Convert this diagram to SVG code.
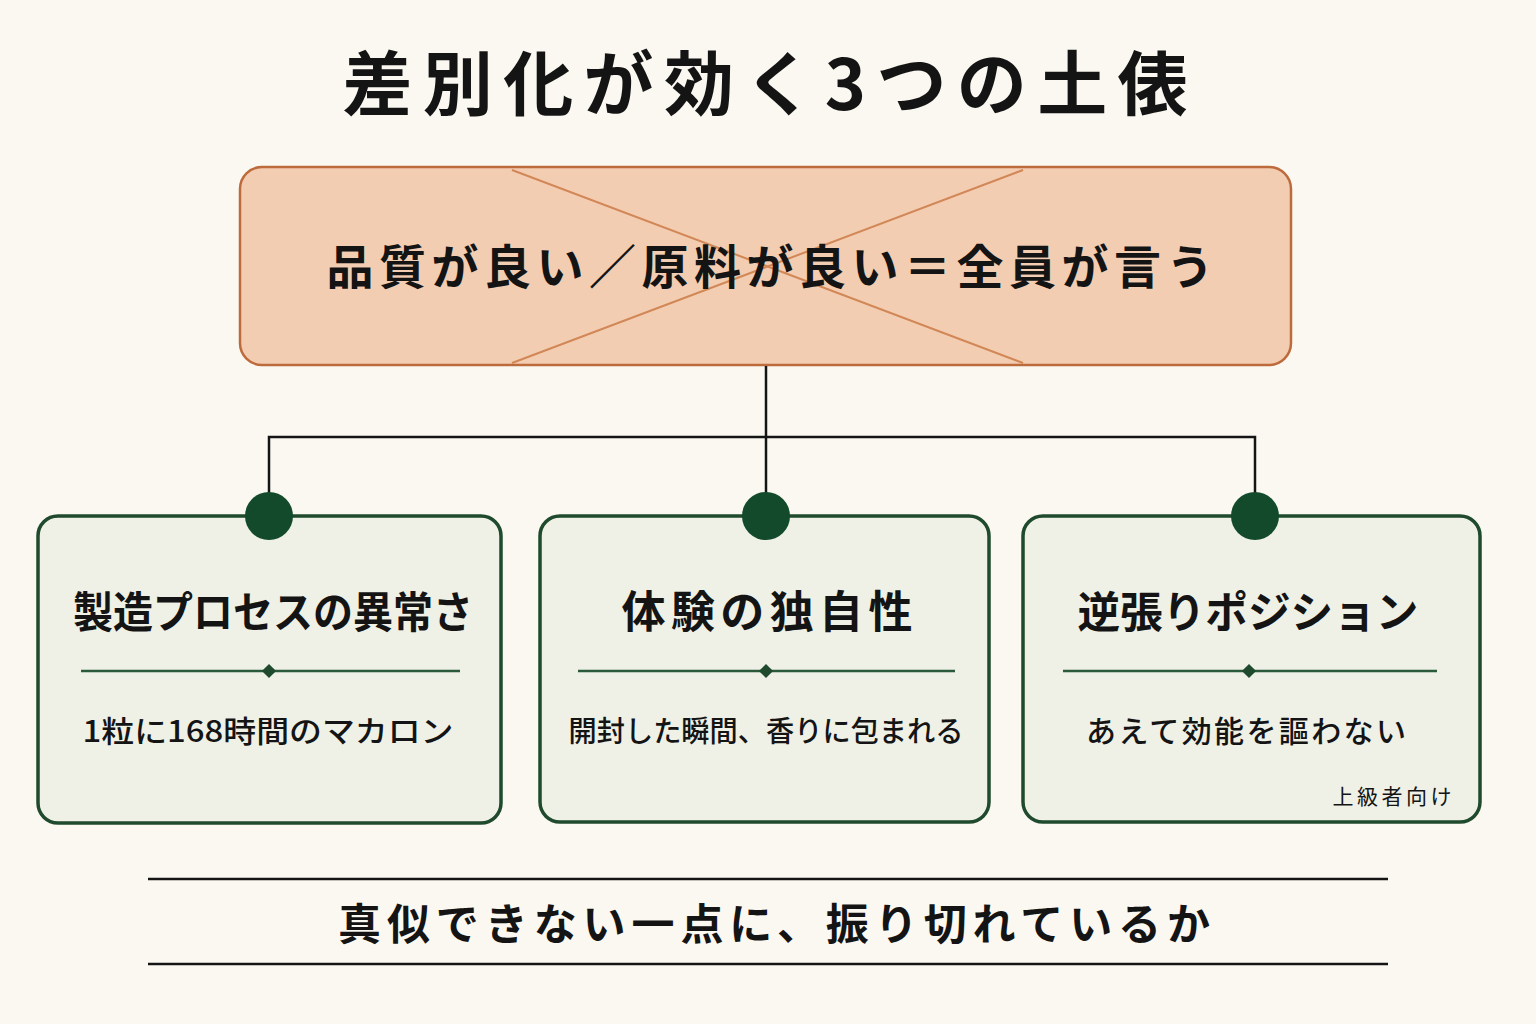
<svg xmlns="http://www.w3.org/2000/svg" width="1536" height="1024" viewBox="0 0 1536 1024">
<style>
.t{font-family:"Noto Sans CJK JP","Noto Sans",sans-serif;fill:#141414;text-anchor:middle}
.h{font-weight:700}
.s{font-weight:500}
.box{fill:#eff1e7;stroke:#1f4a2d;stroke-width:3.5}
.dot{fill:#134a2b}
.div{stroke:#2a5a3a;stroke-width:2.5}
.dia{fill:#1f4a2d}
.con{stroke:#141414;stroke-width:2.5;fill:none}
</style>
<rect width="1536" height="1024" fill="#fbf8f1"/>
<g id="title">
<text class="t h" x="765" y="110" font-size="70" textLength="845" lengthAdjust="spacing">差別化が効く3つの土俵</text>
</g>
<g id="top">
<rect x="240" y="167" width="1051" height="198" rx="22" fill="#f3cdb2" stroke="#bd6b3c" stroke-width="2.5"/>
<line x1="512" y1="170" x2="1023" y2="363" stroke="#d28757" stroke-width="2"/>
<line x1="1023" y1="170" x2="512" y2="363" stroke="#d28757" stroke-width="2"/>
<text class="t h" x="770" y="284" font-size="47" textLength="887" lengthAdjust="spacing">品質が良い／原料が良い＝全員が言う</text>
</g>
<g id="connectors">
<line class="con" x1="766" y1="366" x2="766" y2="516"/>
<polyline class="con" points="269,516 269,437 1255,437 1255,516"/>
</g>
<g id="node1">
<rect class="box" x="38" y="516" width="463" height="307" rx="20"/>
<circle class="dot" cx="269" cy="516" r="24"/>
<text class="t h" x="273" y="628" font-size="43" textLength="400" lengthAdjust="spacingAndGlyphs">製造プロセスの異常さ</text>
<line class="div" x1="81" y1="671" x2="460" y2="671"/>
<rect class="dia" x="264" y="666" width="10" height="10" transform="rotate(45 269 671)"/>
<text class="t s" x="268" y="742" font-size="30" textLength="371" lengthAdjust="spacingAndGlyphs">1粒に168時間のマカロン</text>
</g>
<g id="node2">
<rect class="box" x="540" y="516" width="449" height="306" rx="20"/>
<circle class="dot" cx="766" cy="516" r="24"/>
<text class="t h" x="767" y="628" font-size="44" textLength="291" lengthAdjust="spacing">体験の独自性</text>
<line class="div" x1="578" y1="671" x2="955" y2="671"/>
<rect class="dia" x="761" y="666" width="10" height="10" transform="rotate(45 766 671)"/>
<text class="t s" x="766" y="742" font-size="29" textLength="395" lengthAdjust="spacingAndGlyphs">開封した瞬間、香りに包まれる</text>
</g>
<g id="node3">
<rect class="box" x="1023" y="516" width="457" height="306" rx="20"/>
<circle class="dot" cx="1255" cy="516" r="24"/>
<text class="t h" x="1248" y="628" font-size="43" textLength="341" lengthAdjust="spacingAndGlyphs">逆張りポジション</text>
<line class="div" x1="1063" y1="671" x2="1437" y2="671"/>
<rect class="dia" x="1244" y="666" width="10" height="10" transform="rotate(45 1249 671)"/>
<text class="t s" x="1246" y="742" font-size="30" textLength="320" lengthAdjust="spacing">あえて効能を謳わない</text>
<text class="t" x="1392" y="804" font-size="21" textLength="119" lengthAdjust="spacing" font-weight="400">上級者向け</text>
</g>
<g id="footer">
<line x1="148" y1="879" x2="1388" y2="879" stroke="#141414" stroke-width="2.5"/>
<line x1="148" y1="964" x2="1388" y2="964" stroke="#141414" stroke-width="2.5"/>
<text class="t h" x="774" y="940" font-size="43" textLength="872" lengthAdjust="spacing">真似できない一点に、振り切れているか</text>
</g>
</svg>
